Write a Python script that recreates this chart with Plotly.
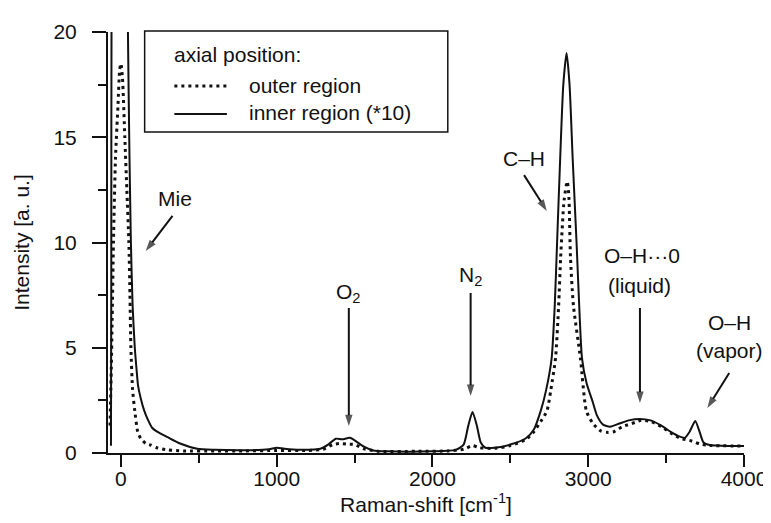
import plotly.graph_objects as go

# ---- data ----
x_outer = [-70, -62, -57, -48, -35, -19, -8, 0, 10, 25, 38, 51, 58, 64, 75, 89, 108, 127, 160, 190, 235, 300,
           400, 600, 800, 1000, 1200, 1300, 1360, 1400, 1450, 1500, 1560, 1650, 1900, 2100, 2200, 2257, 2300,
           2400, 2500, 2600, 2650, 2695, 2735, 2760, 2790, 2810, 2823, 2845, 2865, 2875, 2886, 2905, 2950, 2988,
           3030, 3080, 3120, 3160, 3220, 3300, 3340, 3400, 3470, 3530, 3590, 3650, 3690, 3720, 3780, 4000]
y_outer = [1.3, 4, 6, 10, 14, 16.5, 18.2, 18.5, 17.8, 15, 12.5, 10, 7.5, 5, 3, 2, 1.0, 0.7, 0.45, 0.38, 0.24, 0.15,
           0.1, 0.1, 0.1, 0.12, 0.12, 0.18, 0.4, 0.45, 0.42, 0.4, 0.2, 0.08, 0.08, 0.1, 0.18, 0.35, 0.25,
           0.22, 0.35, 0.65, 1.0, 1.5, 2.0, 3.0, 4.5, 7, 9.3, 12, 12.9, 12.3, 9.3, 7, 4.5, 2.0,
           1.4, 1.05, 0.98, 1.0, 1.25, 1.45, 1.55, 1.5, 1.25, 0.95, 0.7, 0.6, 0.5, 0.42, 0.36, 0.33]

x_inner = [-64, -62, -60, -40, 0, 30, 45, 55, 64, 75, 89, 100, 110, 127, 150, 172, 200, 235, 300, 380, 490, 600,
           800, 950, 1000, 1050, 1150, 1280, 1330, 1380, 1420, 1470, 1510, 1560, 1620, 1700, 2000, 2150, 2200,
           2230, 2257, 2285, 2310, 2340, 2400, 2500, 2600, 2650, 2695, 2730, 2765, 2785, 2800, 2820, 2840, 2861,
           2880, 2900, 2925, 2945, 2960, 2990, 3030, 3055, 3095, 3140, 3200, 3260, 3331, 3400, 3470, 3530, 3580,
           3620, 3650, 3687, 3715, 3740, 3780, 3850, 4000]
y_inner = [0.35, 8, 22, 40, 60, 35, 20, 14, 10, 7, 5, 4, 3.2, 2.6, 2.0, 1.6, 1.2, 1.0, 0.75, 0.45, 0.2, 0.15,
           0.13, 0.18, 0.25, 0.2, 0.15, 0.2, 0.4, 0.68, 0.65, 0.72, 0.55, 0.3, 0.12, 0.08, 0.08, 0.15, 0.4,
           1.3, 1.95, 1.3, 0.5, 0.25, 0.25, 0.4, 0.7, 1.1, 2.0, 3.0, 4.5, 7, 10, 14, 17.5, 19.0,
           17.5, 14, 10, 6.5, 4.5, 3.3, 2.4, 1.8, 1.35, 1.25, 1.4, 1.55, 1.62, 1.55, 1.3, 1.0, 0.8,
           0.72, 1.0, 1.52, 1.0, 0.5, 0.38, 0.35, 0.33]

x_ticks = [0, 1000, 2000, 3000, 4000]
y_ticks = [0, 5, 10, 15, 20]

series_names = ["outer region", "inner region (*10)"]
legend_title = "axial position:"

# peak label texts and their positions (data units)
label_text = ["Mie", "O<sub>2</sub>", "N<sub>2</sub>", "C\u2013H",
              "O\u2013H\u00b7\u00b7\u00b70", "(liquid)", "O\u2013H", "(vapor)"]
label_x = [350, 1463, 2245, 2588, 3345, 3332, 3905, 3905]
label_y = [12.1, 7.6, 8.4, 13.97, 9.4, 7.98, 6.18, 4.89]

# arrows: tail -> tip (data units)
arrow_tail_x = [331, 1463, 2245, 2588, 3332, 3905]
arrow_tail_y = [11.26, 6.89, 7.6, 13.2, 6.89, 3.8]
arrow_tip_x = [159, 1463, 2245, 2734, 3332, 3765]
arrow_tip_y = [9.6, 1.28, 2.71, 11.5, 2.38, 2.14]

FONT = "Liberation Sans, Arial, sans-serif"
INK = "#111111"
FS = 21

# plot-area pixel geometry helpers for the hand-drawn legend box
L, R, T, B = 100, 742, 24, 445
def px_x(p):
    return (p - L) / (R - L)
def px_y(p):
    return (B - p) / (B - T)

fig = go.Figure()
fig.add_trace(go.Scatter(x=x_outer, y=y_outer, mode="lines", name=series_names[0], showlegend=False,
                         line=dict(color=INK, width=3, dash="3px,4px", shape="spline", smoothing=0.6)))
fig.add_trace(go.Scatter(x=x_inner, y=y_inner, mode="lines", name=series_names[1], showlegend=False,
                         line=dict(color=INK, width=2, shape="spline", smoothing=0.6)))

for tx, ty, hx, hy in zip(arrow_tail_x, arrow_tail_y, arrow_tip_x, arrow_tip_y):
    fig.add_trace(go.Scatter(x=[tx, hx], y=[ty, hy], mode="lines+markers", showlegend=False,
                             hoverinfo="skip", line=dict(color=INK, width=2),
                             marker=dict(symbol="arrow", angleref="previous", size=[0, 12],
                                         color=INK, line=dict(width=0))))

annotations = []
for text, x, y in zip(label_text, label_x, label_y):
    annotations.append(dict(x=x, y=y, xref="x", yref="y", text=text, showarrow=False,
                            font=dict(family=FONT, size=FS, color=INK)))

# legend (box, samples, texts)
shapes = [
    dict(type="rect", xref="paper", yref="paper", x0=px_x(137), x1=px_x(443), y0=px_y(124), y1=px_y(23),
         line=dict(color=INK, width=1.5), fillcolor="white", layer="above"),
    dict(type="line", xref="paper", yref="paper", x0=px_x(167), x1=px_x(220), y0=px_y(78), y1=px_y(78),
         line=dict(color=INK, width=3, dash="3px,4px"), layer="above"),
    dict(type="line", xref="paper", yref="paper", x0=px_x(167), x1=px_x(220), y0=px_y(106), y1=px_y(106),
         line=dict(color=INK, width=2), layer="above"),
]
for text, xp, yp in [(legend_title, 165, 47), (series_names[0], 240, 77), (series_names[1], 240, 105)]:
    annotations.append(dict(x=px_x(xp), y=px_y(yp), xref="paper", yref="paper", text=text,
                            showarrow=False, xanchor="left", yanchor="middle",
                            font=dict(family=FONT, size=FS, color=INK)))

fig.update_layout(
    width=771, height=523,
    margin=dict(l=L, r=771 - R, t=T, b=523 - B),
    paper_bgcolor="white", plot_bgcolor="white",
    font=dict(family=FONT, size=FS, color=INK),
    showlegend=False,
    annotations=annotations,
    shapes=shapes,
)
fig.update_xaxes(range=[-83, 4000], tickvals=x_ticks, ticktext=[str(v) for v in x_ticks],
                 showline=True, linecolor=INK, linewidth=2, ticks="outside", ticklen=12, tickwidth=2,
                 tickcolor=INK, showgrid=False, zeroline=False, ticklabelstandoff=-6,
                 minor=dict(dtick=500, tick0=0, ticks="outside", ticklen=8, tickwidth=2, tickcolor=INK,
                            showgrid=False),
                 title=dict(text="Raman-shift [cm<sup>-1</sup>]", standoff=6, font=dict(size=FS)))
fig.update_yaxes(range=[0, 20], tickvals=y_ticks, ticktext=[str(v) for v in y_ticks],
                 showline=True, linecolor=INK, linewidth=2, ticks="outside", ticklen=14, tickwidth=2,
                 tickcolor=INK, showgrid=False, zeroline=False, ticklabelstandoff=11,
                 minor=dict(dtick=2.5, tick0=0, ticks="outside", ticklen=8, tickwidth=2, tickcolor=INK,
                            showgrid=False),
                 title=dict(text="Intensity [a. u.]", standoff=18, font=dict(size=FS)))

fig.write_html("out.html")
